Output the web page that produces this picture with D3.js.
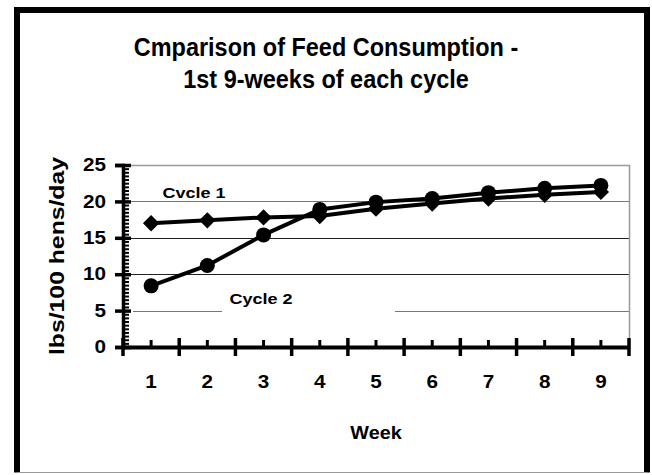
<!DOCTYPE html>
<html>
<head>
<meta charset="utf-8">
<script src="https://cdn.jsdelivr.net/npm/d3@7"></script>
<style>
  body { margin: 0; background: #fff; }
  text { font-family: "Liberation Sans", Arial, sans-serif; font-weight: bold; fill: #000; }
</style>
</head>
<body>
<div id="chart"></div>
<script>

var weeks = [1, 2, 3, 4, 5, 6, 7, 8, 9];
var cycle1 = [17.0, 17.4, 17.8, 18.0, 19.0, 19.7, 20.4, 20.9, 21.3];
var cycle2 = [8.4, 11.2, 15.4, 18.9, 19.9, 20.4, 21.2, 21.8, 22.2];
var yTicks = [0, 5, 10, 15, 20, 25];
var titleLines = ["Cmparison of Feed Consumption -", "1st 9-weeks of each cycle"];

var W = 652, H = 475;
var plot = { left: 123, right: 629, top: 165, bottom: 347 };

var svg = d3.select("#chart").append("svg")
  .attr("width", W)
  .attr("height", H);

// outer frame
svg.append("path")
  .attr("d", "M17,472.5V10H647V472.5")
  .attr("fill", "none").attr("stroke", "#000").attr("stroke-width", 6);
svg.append("line")
  .attr("x1", 17).attr("x2", 647).attr("y1", 472.5).attr("y2", 472.5)
  .attr("stroke", "#999").attr("stroke-width", 1);

// stretched text helper
function label(x, y, str, size, sx, anchor) {
  return svg.append("text")
    .attr("transform", "translate(" + x + "," + y + ") scale(" + sx + ",1)")
    .attr("text-anchor", anchor || "middle")
    .style("font-size", size + "px")
    .text(str);
}

titleLines.forEach(function (t, i) {
  label(326, 56 + i * 32, t, 25.5, 0.92);
});

var x = d3.scaleBand().domain(weeks).range([plot.left, plot.right]);
var xb = d3.scaleLinear().domain([0, weeks.length]).range([plot.left, plot.right]);
var y = d3.scaleLinear().domain([0, 25]).range([plot.bottom, plot.top]);

var g = svg.append("g");

// gridlines
g.selectAll(".grid")
  .data([5, 10, 15, 20])
  .enter().append("line")
  .attr("class", "grid")
  .attr("x1", function (d) { return d == 5 ? 133 : plot.left; })
  .attr("x2", plot.right)
  .attr("y1", function (d) { return Math.round(y(d)) + 0.5; })
  .attr("y2", function (d) { return Math.round(y(d)) + 0.5; })
  .attr("stroke", function (d) { return (d == 5 || d == 20) ? "#777" : "#222"; })
  .attr("stroke-width", 1);

// plot border top / right
g.append("path")
  .attr("d", "M" + plot.left + "," + (Math.round(y(25)) + 0.5) + "H" + (plot.right + 0.5) + "V" + plot.bottom)
  .attr("fill", "none").attr("stroke", "#999").attr("stroke-width", 1.5);

// white box behind the Cycle 2 label
g.append("rect")
  .attr("x", 222).attr("y", y(5) - 6).attr("width", 173).attr("height", 12)
  .attr("fill", "#fff");

var line1 = d3.line()
  .x(function (d, i) { return x(weeks[i]) + x.bandwidth() / 2; })
  .y(function (d) { return y(d); });

[cycle1, cycle2].forEach(function (s) {
  g.append("path")
    .datum(s)
    .attr("d", line1)
    .attr("fill", "none")
    .attr("stroke", "#000")
    .attr("stroke-width", 4);
});

// markers: diamonds for cycle 1, circles for cycle 2
g.selectAll(".dia")
  .data(cycle1)
  .enter().append("path")
  .attr("class", "dia")
  .attr("d", d3.symbol().type(d3.symbolDiamond2).size(170))
  .attr("transform", function (d, i) {
    return "translate(" + (x(weeks[i]) + x.bandwidth() / 2) + "," + y(d) + ")";
  })
  .attr("fill", "#000");

g.selectAll(".circ")
  .data(cycle2)
  .enter().append("circle")
  .attr("class", "circ")
  .attr("cx", function (d, i) { return x(weeks[i]) + x.bandwidth() / 2; })
  .attr("cy", function (d) { return y(d); })
  .attr("r", 7.5)
  .attr("fill", "#000");

// y axis: major ticks crossing, minor ticks inside
var yAxisL = d3.axisLeft(y).tickValues(yTicks).tickSize(8).tickPadding(9).tickFormat(d3.format("d"));
var yAxisR = d3.axisRight(y).tickValues(d3.range(0, 25.01, 0.5)).tickSize(6).tickFormat("");

var gy = svg.append("g")
  .attr("transform", "translate(" + plot.left + ",0)")
  .call(yAxisL);
gy.select(".domain").attr("stroke-width", 3.5);
gy.selectAll(".tick line").attr("stroke-width", 3.5);
gy.selectAll(".tick text")
  .style("font-size", "18px")
  .attr("transform", "translate(-17,0) scale(1.15,1) translate(17,0)");

var gyr = svg.append("g")
  .attr("transform", "translate(" + plot.left + ",0)")
  .call(yAxisR);
gyr.select(".domain").remove();
gyr.selectAll(".tick line").attr("stroke-width", 2);
gyr.selectAll(".tick")
  .filter(function (d) { return d % 5 === 0; })
  .select("line").attr("x2", 8).attr("stroke-width", 3.5);

// x axis: labels at week centres, short ticks there, long ticks between weeks
var xAxis = d3.axisBottom(x).tickSize(0).tickPadding(28);
var gx = svg.append("g")
  .attr("transform", "translate(0," + plot.bottom + ")")
  .call(xAxis);
gx.select(".domain").attr("stroke-width", 4);
gx.selectAll(".tick text").style("font-size", "18px")
  .attr("transform", "scale(1.15,1)")
  .attr("x", 0);

gx.selectAll(".minor")
  .data(weeks)
  .enter().append("line")
  .attr("class", "minor")
  .attr("x1", function (d) { return x(d) + x.bandwidth() / 2; })
  .attr("x2", function (d) { return x(d) + x.bandwidth() / 2; })
  .attr("y1", -7).attr("y2", 0)
  .attr("stroke", "#000").attr("stroke-width", 3);

gx.selectAll(".major")
  .data(d3.range(0, weeks.length + 1))
  .enter().append("line")
  .attr("class", "major")
  .attr("x1", function (d) { return xb(d); })
  .attr("x2", function (d) { return xb(d); })
  .attr("y1", -9).attr("y2", 9)
  .attr("stroke", "#000").attr("stroke-width", 3.5);

// axis titles
label(376, 439, "Week", 18, 1.1);
svg.append("text")
  .attr("transform", "translate(64,256) rotate(-90)")
  .attr("text-anchor", "middle")
  .attr("textLength", 198)
  .attr("lengthAdjust", "spacingAndGlyphs")
  .style("font-size", "20px")
  .text("lbs/100 hens/day");

// series labels
label(194, 198, "Cvcle 1", 15, 1.2);
label(261, 304, "Cycle 2", 15, 1.2);

</script>
</body>
</html>
